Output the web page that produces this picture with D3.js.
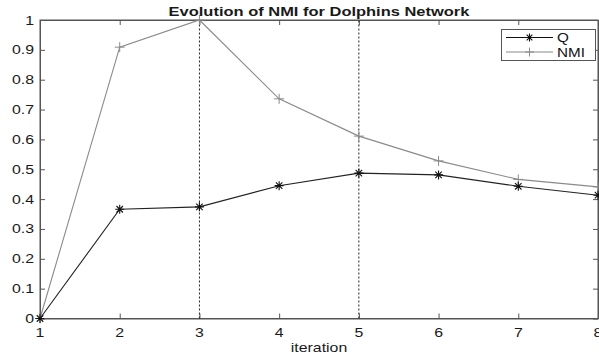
<!DOCTYPE html>
<html><head><meta charset="utf-8">
<script src="https://cdn.jsdelivr.net/npm/d3@7"></script>
<style>body{margin:0;background:#fff}svg{display:block}text{font-family:"Liberation Sans",Arial,sans-serif}</style>
</head><body><svg id="c" width="599" height="358"></svg>
<script>
const iterations = [1,2,3,4,5,6,7,8];
const qValues = [0,0.366,0.374,0.445,0.487,0.481,0.443,0.413];
const nmiValues = [0,0.909,1.0,0.736,0.611,0.528,0.466,0.441];
const xTicks = [1,2,3,4,5,6,7,8];
const yTicks = [0,0.1,0.2,0.3,0.4,0.5,0.6,0.7,0.8,0.9,1];
const yTickLabels = ["0","0.1","0.2","0.3","0.4","0.5","0.6","0.7","0.8","0.9","1"];
const markerLines = [3,5];
const seriesNames = ["Q","NMI"];

const svg = d3.select("#c");
const L=40, R=598, T=20, B=318.5;
const SX = 1.22; // horizontal stretch of the text in the reference
const x = d3.scaleLinear().domain([1,8]).range([L,R]);
const y = d3.scaleLinear().domain([0,1]).range([B,T]);
const axisColor = "#555";
const tk = 5;

function stext(px,py,str,size,anchor,weight){
  return svg.append("text")
    .attr("transform",`translate(${px},${py}) scale(${SX},1)`)
    .attr("text-anchor",anchor).style("font-size",size+"px")
    .style("font-weight",weight||"normal").attr("fill","#1a1a1a").text(str);
}

svg.append("rect").attr("x",L).attr("y",T).attr("width",R-L).attr("height",B-T)
  .attr("fill","none").attr("stroke",axisColor).attr("stroke-width",1);

svg.append("g").attr("transform",`translate(0,${B})`)
  .call(d3.axisBottom(x).tickValues(xTicks).tickFormat("").tickSizeInner(-tk).tickSizeOuter(0));
svg.append("g").attr("transform",`translate(${L},0)`)
  .call(d3.axisLeft(y).tickValues(yTicks).tickFormat("").tickSizeInner(-tk).tickSizeOuter(0));
svg.append("g").attr("transform",`translate(0,${T})`)
  .call(d3.axisTop(x).tickValues(xTicks).tickFormat("").tickSizeInner(-tk).tickSizeOuter(0));
svg.append("g").attr("transform",`translate(${R},0)`)
  .call(d3.axisRight(y).tickValues(yTicks).tickFormat("").tickSizeInner(-tk).tickSizeOuter(0));
svg.selectAll(".domain").attr("stroke",axisColor);
svg.selectAll(".tick line").attr("stroke",axisColor);

xTicks.forEach(t=>stext(x(t),337,String(t),13,"middle"));
yTicks.forEach((t,i)=>stext(34,y(t)+4.5,yTickLabels[i],13,"end"));

svg.selectAll(".vl").data(markerLines).join("line")
  .attr("x1",d=>x(d)).attr("x2",d=>x(d)).attr("y1",y(0)).attr("y2",y(1))
  .attr("stroke","#222").attr("stroke-width",1).attr("stroke-dasharray","2,2");

const line = d3.line().x((d,i)=>x(iterations[i])).y(d=>y(d));
svg.append("path").datum(nmiValues).attr("d",line).attr("fill","none").attr("stroke","#8a8a8a").attr("stroke-width",1.1);
svg.append("path").datum(qValues).attr("d",line).attr("fill","none").attr("stroke","#222").attr("stroke-width",1.1);

function plus(g,cx,cy,s,col){
  g.append("path").attr("d",`M${cx-s},${cy}H${cx+s}M${cx},${cy-s}V${cy+s}`).attr("stroke",col).attr("stroke-width",1).attr("fill","none");
}
function star(g,cx,cy,s,col){
  const d=s*0.72;
  g.append("path").attr("d",`M${cx-s},${cy}H${cx+s}M${cx},${cy-s}V${cy+s}M${cx-d},${cy-d}L${cx+d},${cy+d}M${cx-d},${cy+d}L${cx+d},${cy-d}`)
   .attr("stroke",col).attr("stroke-width",1.1).attr("fill","none");
}
const mk = svg.append("g");
nmiValues.forEach((v,i)=>plus(mk,x(iterations[i]),y(v),5,"#8a8a8a"));
qValues.forEach((v,i)=>star(mk,x(iterations[i]),y(v),4.5,"#111"));

stext((L+R)/2,16,"Evolution of NMI for Dolphins Network",13.5,"middle","bold");
stext((L+R)/2,352,"iteration",13,"middle");

const lg = svg.append("g");
lg.append("rect").attr("x",501.5).attr("y",29.5).attr("width",94).attr("height",31)
  .attr("fill","#fff").attr("stroke",axisColor).attr("stroke-width",1);
const lc = ["#111","#8a8a8a"];
seriesNames.forEach((n,i)=>{
  const yy = 37.5 + i*14.5;
  lg.append("line").attr("x1",506).attr("x2",553).attr("y1",yy).attr("y2",yy).attr("stroke",lc[i]).attr("stroke-width",1.1);
  if(i===0) star(lg,529.5,yy,4,"#111"); else plus(lg,529.5,yy,4.5,"#8a8a8a");
  lg.append("text").attr("transform",`translate(557,${yy+4.5}) scale(${SX},1)`)
    .style("font-size","12.5px").attr("fill","#111").text(n);
});
</script></body></html>
